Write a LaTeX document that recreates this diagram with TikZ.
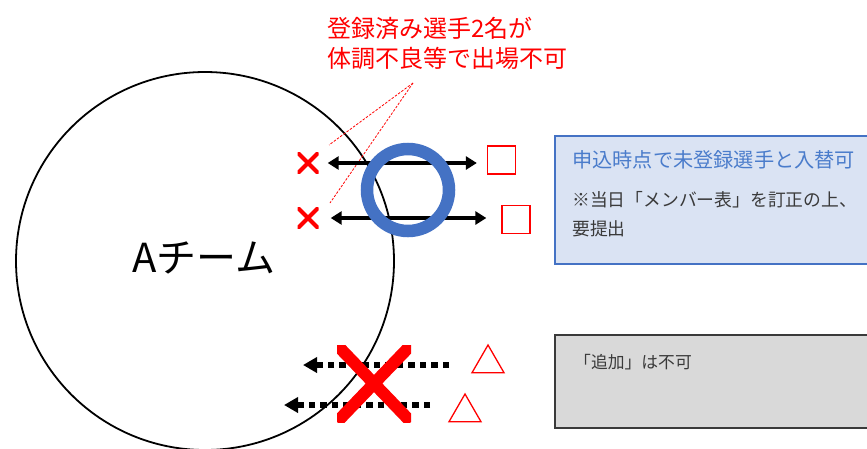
\documentclass[tikz,border=0pt]{standalone}
\usepackage{fontspec}
\setmainfont{Noto Sans CJK JP}
\usetikzlibrary{arrows.meta,shapes.geometric}
\definecolor{myred}{HTML}{FF0000}
\definecolor{myblue}{HTML}{4472C4}
\definecolor{bluetext}{HTML}{4A7CCB}
\definecolor{bluefill}{HTML}{DAE3F3}
\definecolor{grayfill}{HTML}{D9D9D9}
\definecolor{darkline}{HTML}{3A3A3A}
\tikzset{
  smallx/.style={minimum size=21pt, inner sep=0pt,
    path picture={\draw[myred, line width=4pt]
      (path picture bounding box.north west) -- (path picture bounding box.south east)
      (path picture bounding box.north east) -- (path picture bounding box.south west);}},
  bigx/.style={minimum width=74pt, minimum height=77pt, inner sep=0pt,
    path picture={\draw[myred, line width=12pt]
      (path picture bounding box.north west) -- (path picture bounding box.south east)
      (path picture bounding box.north east) -- (path picture bounding box.south west);}},
  sqbox/.style={draw=myred, line width=1.3pt, minimum size=28pt, inner sep=0pt},
  tribox/.style={draw=myred, line width=1.3pt, regular polygon, regular polygon sides=3, minimum size=37pt, inner sep=0pt},
  dblarrow/.style={line width=4pt, {Triangle[length=11pt,width=13pt]}-{Triangle[length=11pt,width=13pt]}},
  dotarrow/.style={line width=6pt, dash pattern=on 6.5pt off 5pt, -{Triangle[length=14pt,width=15pt]}},
  leader/.style={myred, line width=0.8pt, dash pattern=on 2.5pt off 1.5pt},
  bluebox/.style={draw=myblue, fill=bluefill, line width=2.2pt, anchor=north west, minimum width=360pt, minimum height=128pt, inner sep=0pt},
  graybox/.style={draw=darkline, fill=grayfill, line width=2.2pt, anchor=north west, minimum width=360pt, minimum height=93pt, inner sep=0pt},
  txt/.style={anchor=west, inner sep=0pt}
}
\begin{document}
\begin{tikzpicture}[x=1pt,y=-1pt]
\useasboundingbox (0,0) rectangle (867,448);
\clip (0,0) rectangle (867,448);
% team circle
\node[draw, circle, line width=1.8pt, minimum size=378pt, inner sep=0pt] (team) at (205,261) {};
\node[inner sep=0pt, font=\fontsize{40}{44}\selectfont] (teamlbl) at (204,258) {Aチーム};
% note
\node[txt, text=myred, align=left, font=\fontsize{24}{30}\selectfont] (note) at (327,43) {登録済み選手2名が\\体調不良等で出場不可};
\coordinate (apex) at (413,83);
\coordinate (lead1) at (329,145);
\coordinate (lead2) at (330,203);
\draw[leader] (apex) -- (lead1);
\draw[leader] (apex) -- (lead2);
% small crosses and squares
\node[smallx] (x1) at (308,163) {};
\node[smallx] (x2) at (308,218) {};
\node[sqbox] (s1) at (501.5,160) {};
\node[sqbox] (s2) at (516,219.5) {};
\draw[dblarrow] ([xshift=9pt]x1.east |- 0,163) -- ([xshift=-10pt]s1.west |- 0,163);
\draw[dblarrow] ([xshift=12pt]x2.east |- 0,218) -- ([xshift=-15pt]s2.west |- 0,218);
% blue ring
\node[draw=myblue, circle, line width=12.5pt, minimum size=82pt, inner sep=0pt] (ring) at (408,190) {};
% blue box
\node[bluebox] (bbox) at (554,135) {};
\node[txt, text=bluetext, font=\fontsize{20.2}{22}\selectfont] (bt1) at (572,160) {申込時点で未登録選手と入替可};
\node[txt, text=darkline, font=\fontsize{17.8}{20}\selectfont] (bt2) at (572,200) {※当日「メンバー表」を訂正の上、};
\node[txt, text=darkline, font=\fontsize{17.8}{20}\selectfont] (bt3) at (572,229) {要提出};
% triangles and dotted arrows
\node[tribox] (t1) at (488,363.5) {};
\node[tribox] (t2) at (465,412.5) {};
\coordinate (d1s) at (449,365);
\coordinate (d1e) at (303,365);
\coordinate (d2s) at (430,405);
\coordinate (d2e) at (284,405);
\draw[dotarrow] (d1s) -- (d1e);
\draw[dotarrow] (d2s) -- (d2e);
\node[bigx] (bigcross) at (374,383.5) {};
% gray box
\node[graybox] (gbox) at (554,334) {};
\node[txt, text=darkline, font=\fontsize{16.8}{20}\selectfont] (gt) at (574,362) {「追加」は不可};
\end{tikzpicture}
\end{document}
